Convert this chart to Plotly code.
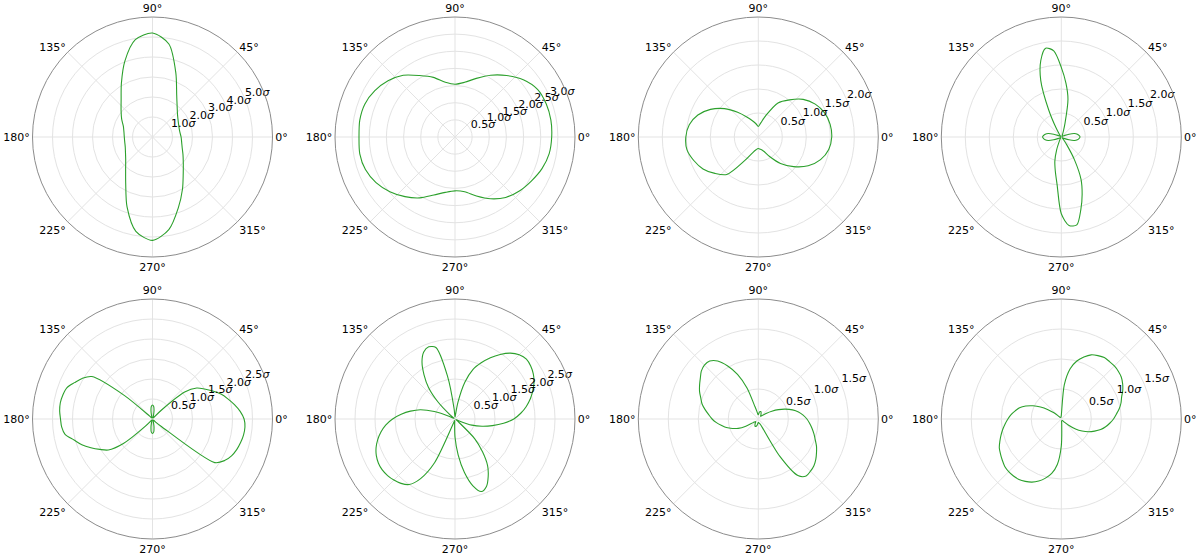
import plotly.graph_objects as go

# sampling angles (degrees)
theta_10 = list(range(0, 360, 10))
theta_5 = list(range(0, 360, 5))

# radial values (in sigma)
r_p1 = [1.43, 1.39, 1.41, 1.49, 1.64, 1.92, 2.42, 3.41, 4.72, 5.20, 4.94, 4.04,
        3.11, 2.44, 2.05, 1.78, 1.55, 1.45, 1.41, 1.41, 1.45, 1.56, 1.75, 2.09,
        2.68, 3.72, 4.79, 5.17, 4.70, 3.77, 3.00, 2.39, 2.01, 1.76, 1.58, 1.48]
r_p2 = [2.82, 2.84, 2.83, 2.78, 2.60, 2.34, 2.08, 1.82, 1.62, 1.54, 1.62, 1.85,
        2.07, 2.35, 2.55, 2.70, 2.80, 2.82, 2.80, 2.82, 2.78, 2.66, 2.48, 2.27,
        2.05, 1.80, 1.64, 1.57, 1.62, 1.83, 2.08, 2.30, 2.45, 2.57, 2.70, 2.79]
r_p3 = [1.53, 1.52, 1.47, 1.37, 1.22, 1.01, 0.82, 0.49, 0.30, 0.22, 0.28, 0.36,
        0.48, 0.67, 0.92, 1.15, 1.34, 1.46, 1.51, 1.51, 1.43, 1.33, 1.18, 1.02,
        0.57, 0.35, 0.27, 0.24, 0.26, 0.31, 0.47, 0.72, 0.96, 1.20, 1.38, 1.49]
r_p4 = [0.39, 0.37, 0.34, 0.28, 0.17, 0.08, 0.04, 0.03, 0.02, 0.02, 0.02, 0.03,
        0.04, 0.06, 0.12, 0.30, 0.80, 1.12, 1.45, 1.80, 1.88, 1.65, 1.25, 0.62,
        0.22, 0.08, 0.04, 0.02, 0.02, 0.03, 0.04, 0.08, 0.17, 0.28, 0.34, 0.37,
        0.39, 0.37, 0.34, 0.28, 0.17, 0.08, 0.04, 0.03, 0.02, 0.02, 0.02, 0.03,
        0.05, 0.10, 0.28, 0.52, 0.72, 1.00, 1.60, 1.85, 1.86, 1.57, 1.27, 0.97,
        0.55, 0.20, 0.08, 0.04, 0.02, 0.03, 0.04, 0.08, 0.17, 0.28, 0.34, 0.37]
r_p5 = [2.29, 2.20, 2.08, 1.95, 1.82, 1.66, 1.50, 1.35, 1.05, 0.30, 0.05, 0.03,
        0.03, 0.03, 0.04, 0.10, 0.22, 0.32, 0.35, 0.32, 0.22, 0.10, 0.04, 0.03,
        0.03, 0.03, 0.05, 0.10, 0.90, 1.85, 2.03, 2.15, 2.28, 2.32, 2.34, 2.33,
        2.30, 2.28, 2.22, 2.03, 1.88, 1.70, 1.52, 1.35, 0.95, 0.25, 0.05, 0.03,
        0.03, 0.03, 0.04, 0.10, 0.22, 0.33, 0.36, 0.33, 0.22, 0.10, 0.04, 0.03,
        0.03, 0.03, 0.05, 0.10, 0.30, 1.90, 2.08, 2.18, 2.24, 2.28, 2.31, 2.32]
r_p6 = [1.47, 1.65, 1.81, 1.95, 2.07, 2.18, 2.26, 2.31, 2.33, 2.27, 2.15, 1.97,
        1.77, 1.55, 1.32, 0.95, 0.42, 0.08, 0.05, 0.25, 1.10, 1.85, 1.92, 1.85,
        1.65, 1.35, 1.03, 0.60, 0.18, 0.04, 0.03, 0.15, 0.55, 0.90, 1.13, 1.35,
        1.56, 1.74, 1.88, 2.00, 2.10, 2.17, 2.21, 2.22, 2.20, 2.16, 2.10, 2.00,
        1.72, 1.20, 0.10, 0.04, 0.04, 0.10, 0.45, 0.90, 1.36, 1.73, 1.93, 1.86,
        1.66, 1.42, 1.07, 0.70, 0.12, 0.04, 0.03, 0.10, 0.45, 0.70, 0.95, 1.22]
r_p7 = [0.81, 0.75, 0.68, 0.59, 0.48, 0.37, 0.26, 0.17, 0.10, 0.07, 0.06, 0.07,
        0.09, 0.11, 0.13, 0.13, 0.12, 0.09, 0.07, 0.08, 0.12, 0.21, 0.55, 0.82,
        1.02, 1.18, 1.26, 1.27, 1.24, 1.18, 1.13, 1.08, 1.02, 0.97, 0.90, 0.83,
        0.77, 0.70, 0.62, 0.55, 0.46, 0.37, 0.24, 0.10, 0.07, 0.06, 0.07, 0.09,
        0.11, 0.13, 0.13, 0.12, 0.10, 0.07, 0.06, 0.06, 0.07, 0.08, 0.09, 0.15,
        0.72, 1.15, 1.24, 1.23, 1.21, 1.17, 1.12, 1.07, 1.01, 0.96, 0.91, 0.86]
r_p8 = [0.87, 0.92, 0.98, 1.03, 1.07, 1.13, 1.18, 1.22, 1.24, 1.25, 1.25, 1.25,
        1.22, 1.18, 1.10, 1.00, 0.85, 0.57, 0.06, 0.04, 0.03, 0.03, 0.03, 0.03,
        0.03, 0.03, 0.04, 0.08, 0.16, 0.27, 0.40, 0.52, 0.63, 0.72, 0.78, 0.84,
        0.89, 0.94, 0.99, 1.04, 1.09, 1.14, 1.17, 1.20, 1.23, 1.24, 1.24, 1.23,
        1.20, 1.16, 1.10, 1.02, 0.92, 0.76, 0.45, 0.08, 0.03, 0.03, 0.03, 0.03,
        0.03, 0.03, 0.04, 0.08, 0.16, 0.29, 0.40, 0.50, 0.59, 0.68, 0.75, 0.81]

panels = [r_p1, r_p2, r_p3, r_p4, r_p5, r_p6, r_p7, r_p8]
thetas = [theta_10, theta_10, theta_10, theta_5, theta_5, theta_5, theta_5, theta_5]

# radial axis limits and ticks per panel
r_max = [6.0, 3.5, 2.5, 2.5, 3.0, 3.0, 2.0, 2.0]
r_ticks = [
    [1.0, 2.0, 3.0, 4.0, 5.0],
    [0.5, 1.0, 1.5, 2.0, 2.5, 3.0],
    [0.5, 1.0, 1.5, 2.0],
    [0.5, 1.0, 1.5, 2.0],
    [0.5, 1.0, 1.5, 2.0, 2.5],
    [0.5, 1.0, 1.5, 2.0, 2.5],
    [0.5, 1.0, 1.5],
    [0.5, 1.0, 1.5],
]
label_angle = 22.5
angle_ticks = [0, 45, 90, 135, 180, 225, 270, 315]

W, H = 1200, 555
RAD = 120
centers_x = [152.5, 455, 758.3, 1061.3]
centers_y = [137, 419]

fig = go.Figure()
layout = {}
for i, (r, th) in enumerate(zip(panels, thetas)):
    name = "polar" if i == 0 else f"polar{i + 1}"
    fig.add_trace(
        go.Scatterpolar(
            r=r + [r[0]],
            theta=th + [360],
            mode="lines",
            line=dict(color="#2ca02c", width=1.1, shape="spline", smoothing=0.8),
            subplot=name,
            showlegend=False,
            hoverinfo="skip",
        )
    )
    # radial tick labels, matplotlib style: sitting beyond each ring at 22.5 deg
    fig.add_trace(
        go.Scatterpolar(
            r=r_ticks[i],
            theta=[label_angle] * len(r_ticks[i]),
            mode="text",
            text=[f"{v:.1f}<i>σ</i>" for v in r_ticks[i]],
            textposition="top right",
            textfont=dict(size=11, color="black", family="DejaVu Sans"),
            subplot=name,
            showlegend=False,
            hoverinfo="skip",
            cliponaxis=False,
        )
    )
    cx = centers_x[i % 4]
    cy = centers_y[i // 4]
    layout[name] = dict(
        domain=dict(
            x=[(cx - RAD) / W, (cx + RAD) / W],
            y=[1 - (cy + RAD) / H, 1 - (cy - RAD) / H],
        ),
        bgcolor="white",
        radialaxis=dict(
            range=[0, r_max[i]],
            tickvals=r_ticks[i],
            showticklabels=False,
            angle=label_angle,
            showline=False,
            ticks="",
            gridcolor="#e3e3e3",
            gridwidth=1,
        ),
        angularaxis=dict(
            tickvals=angle_ticks,
            ticktext=[f"{a}°" for a in angle_ticks],
            rotation=0,
            direction="counterclockwise",
            showline=True,
            linecolor="#8c8c8c",
            linewidth=1,
            gridcolor="#e3e3e3",
            ticks="",
            tickfont=dict(size=11, color="black"),
        ),
    )

fig.update_layout(
    width=W,
    height=H,
    margin=dict(l=0, r=0, t=0, b=0),
    paper_bgcolor="white",
    font=dict(family="DejaVu Sans", size=11, color="black"),
    **layout,
)

# drop the page's default body margin so the figure sits at the window corner
fig.write_html(
    "out.html",
    config={"displayModeBar": False},
    post_script="document.body.style.margin='0px';",
)
